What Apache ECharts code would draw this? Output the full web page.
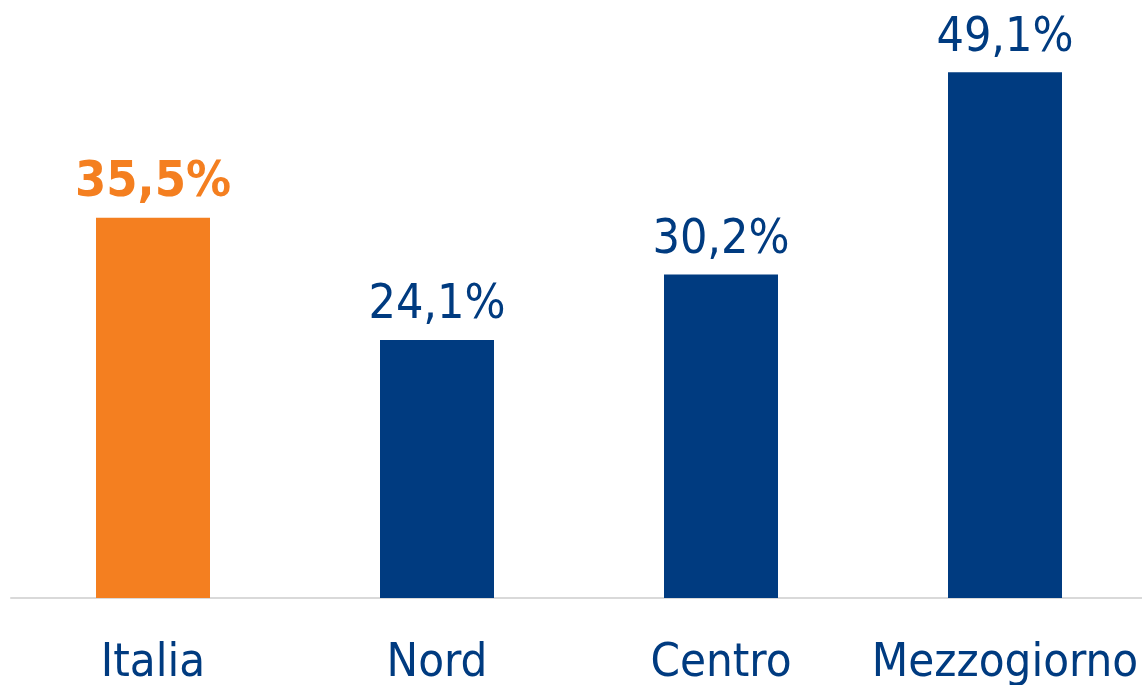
<!DOCTYPE html>
<html>
<head>
<meta charset="utf-8">
<script src="https://cdn.jsdelivr.net/npm/echarts@6/dist/echarts.min.js"></script>
<style>
  html, body { margin: 0; padding: 0; background: #fff; }
  #main { width: 1142px; height: 685px; }
</style>
</head>
<body>
<div id="main"></div>
<script>
const categories = ['Italia', 'Nord', 'Centro', 'Mezzogiorno']
const values = [35.5, 24.1, 30.2, 49.1]
const barColors = ['#F47F20', '#003B80', '#003B80', '#003B80']

const navy = '#003B80'
const fontName = 'DejaVu Sans Condensed'

let myChart = echarts.init(document.getElementById('main'))

// la prima barra (Italia) in arancione con etichetta in grassetto
let seriesData = values.map(function (v, i) {
  let item = { value: v, itemStyle: { color: barColors[i] } }
  if (i === 0) {
    item.label = { color: barColors[0], fontWeight: 'bold', fontSize: 50 }
  }
  return item
})

let option = {
  animation: false,
  grid: { left: 11, width: 1136, top: 62.5, bottom: 87, outerBoundsMode: 'none' },
  xAxis: {
    type: 'category',
    data: categories,
    axisLine: { lineStyle: { color: '#d9d9d9', width: 2 } },
    axisTick: { show: false },
    axisLabel: {
      interval: 0,
      color: navy,
      fontFamily: fontName,
      fontSize: 47,
      margin: 42
    }
  },
  yAxis: {
    type: 'value',
    min: 0,
    max: 50,
    show: false,
    splitLine: { show: false }
  },
  series: [
    {
      type: 'bar',
      barWidth: 114,
      data: seriesData,
      label: {
        show: true,
        position: 'top',
        distance: 10,
        color: navy,
        fontFamily: fontName,
        fontSize: 48,
        formatter: function (p) {
          return p.value.toFixed(1).replace('.', ',') + '%'
        }
      }
    }
  ]
}

myChart.setOption(option)
</script>
</body>
</html>
